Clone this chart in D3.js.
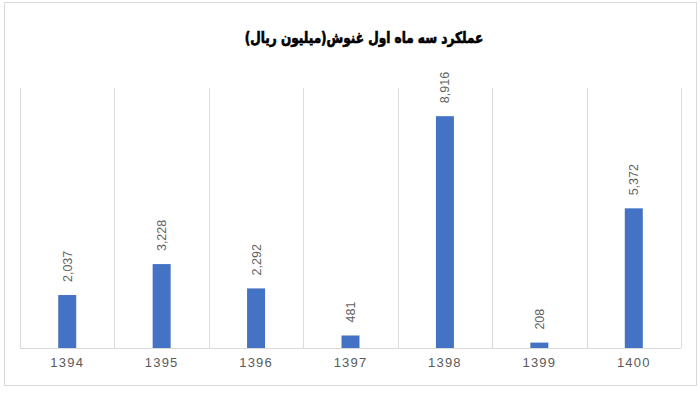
<!DOCTYPE html>
<html>
<head>
<meta charset="utf-8">
<script src="https://cdn.jsdelivr.net/npm/d3@7"></script>
<style>
  html, body { margin: 0; padding: 0; background: #fff; }
  svg { display: block; }
</style>
</head>
<body>
<svg id="chart" width="700" height="400"></svg>
<script>
// Quarterly performance figures (million rials) by year
const years = ["1394", "1395", "1396", "1397", "1398", "1399", "1400"];
const values = [2037, 3228, 2292, 481, 8916, 208, 5372];
const titleText = "عملکرد سه ماه اول غنوش(میلیون ریال)";
const yMax = 10000;

const svg = d3.select("#chart");

// Outer frame
svg.append("rect")
  .attr("x", 4.5).attr("y", 2.5)
  .attr("width", 692).attr("height", 383)
  .attr("fill", "#fff")
  .attr("stroke", "#d9d9d9")
  .attr("stroke-width", 1);

const plot = { left: 20, right: 681, top: 88, bottom: 348 };

const x = d3.scaleBand()
  .domain(years)
  .range([plot.left, plot.right])
  .paddingInner(0)
  .paddingOuter(0);

const y = d3.scaleLinear()
  .domain([0, yMax])
  .range([plot.bottom, plot.top]);

// Vertical category separators
const bounds = years.map(d => x(d)).concat([plot.right]);
svg.append("g")
  .selectAll("line")
  .data(bounds)
  .join("line")
  .attr("x1", d => Math.round(d) + 0.5)
  .attr("x2", d => Math.round(d) + 0.5)
  .attr("y1", y(yMax))
  .attr("y2", y(0))
  .attr("stroke", "#dcdcdc")
  .attr("stroke-width", 1);

// Bars
const barW = 18;
svg.append("g")
  .selectAll("rect")
  .data(values)
  .join("rect")
  .attr("x", (d, i) => x(years[i]) + x.bandwidth() / 2 - barW / 2)
  .attr("y", d => y(d))
  .attr("width", barW)
  .attr("height", d => y(0) - y(d))
  .attr("fill", "#4472c4");

// Value labels, rotated, above each bar
svg.append("g")
  .selectAll("text")
  .data(values)
  .join("text")
  .attr("transform", (d, i) => {
    const cx = x(years[i]) + x.bandwidth() / 2 + 4.5;
    const cy = y(d) - 13;
    return `translate(${cx},${cy}) rotate(-90)`;
  })
  .attr("text-anchor", "start")
  .attr("font-family", "Liberation Sans, Arial, sans-serif")
  .attr("font-size", 12.5)
  .attr("fill", "#636363")
  .text(d => d3.format(",")(d));

// Category axis
const xAxis = d3.axisBottom(x).tickSize(0).tickPadding(10);
const gx = svg.append("g")
  .attr("transform", `translate(0,${plot.bottom})`)
  .call(xAxis);
gx.select(".domain")
  .attr("stroke", "#d9d9d9")
  .attr("d", `M${plot.left},0.5H${plot.right}`);
gx.selectAll("text")
  .attr("font-family", "Liberation Sans, Arial, sans-serif")
  .attr("font-size", 13)
  .attr("letter-spacing", "1.2px")
  .attr("fill", "#595959");

// Title: condensed and heavy
svg.append("text")
  .attr("transform", "translate(364,43) scale(0.78,1)")
  .attr("text-anchor", "middle")
  .attr("direction", "rtl")
  .attr("font-family", "DejaVu Sans, sans-serif")
  .attr("font-weight", "bold")
  .attr("font-size", 15.5)
  .attr("fill", "#000")
  .attr("stroke", "#000")
  .attr("stroke-width", 0.7)
  .text(titleText);
</script>
</body>
</html>
